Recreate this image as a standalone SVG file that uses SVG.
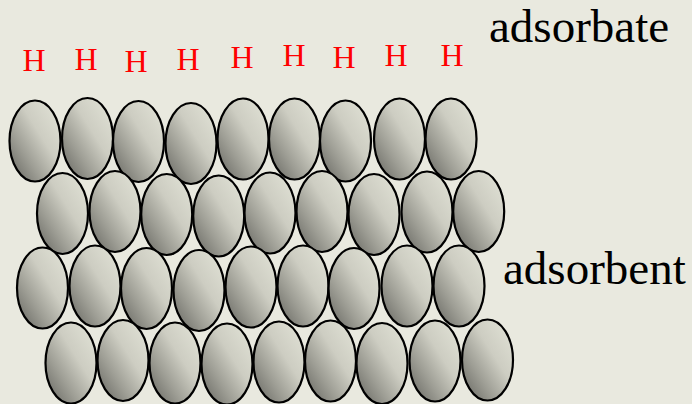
<svg xmlns="http://www.w3.org/2000/svg" width="692" height="404" viewBox="0 0 692 404">
  <defs>
    <!-- shaded sphere-like fill: dark lower-left, light upper-right -->
    <linearGradient id="atomShade" x1="0.05" y1="0.95" x2="0.95" y2="0.05">
      <stop offset="0" stop-color="#6a6a64"/>
      <stop offset="0.3" stop-color="#9e9e95"/>
      <stop offset="0.6" stop-color="#cdcdc2"/>
      <stop offset="1" stop-color="#e1e2d6"/>
    </linearGradient>
  </defs>
  <style>
    .atom { fill: url(#atomShade); stroke: #000; stroke-width: 2.2; }
    .h { font-family: "Liberation Serif", "Times New Roman", "DejaVu Serif", serif; font-size: 32px; fill: #ff0000; text-anchor: middle; }
    .label { font-family: "Liberation Serif", "Times New Roman", "DejaVu Serif", serif; font-size: 47px; fill: #000; }
  </style>

  <rect x="0" y="0" width="692" height="404" fill="#e9e9df"/>

  <!-- adsorbed hydrogen layer -->
  <g id="adsorbate-layer">
    <text class="h" x="34" y="71" font-family="Liberation Serif, serif">H</text>
    <text class="h" x="86" y="70" font-family="Liberation Serif, serif">H</text>
    <text class="h" x="136" y="72" font-family="Liberation Serif, serif">H</text>
    <text class="h" x="188" y="70" font-family="Liberation Serif, serif">H</text>
    <text class="h" x="242" y="68" font-family="Liberation Serif, serif">H</text>
    <text class="h" x="294" y="66" font-family="Liberation Serif, serif">H</text>
    <text class="h" x="344" y="68" font-family="Liberation Serif, serif">H</text>
    <text class="h" x="396" y="66" font-family="Liberation Serif, serif">H</text>
    <text class="h" x="452" y="66" font-family="Liberation Serif, serif">H</text>
  </g>

  <!-- adsorbent surface: row 1 (top) -->
  <g id="r1c1"><ellipse class="atom" cx="35" cy="141" rx="25.5" ry="40.5"/></g>
  <g id="r1c2"><ellipse class="atom" cx="87.5" cy="138.5" rx="25.5" ry="40.5"/></g>
  <g id="r1c3"><ellipse class="atom" cx="138.5" cy="141.5" rx="25.5" ry="40.5"/></g>
  <g id="r1c4"><ellipse class="atom" cx="191" cy="143.5" rx="25.5" ry="40.5"/></g>
  <g id="r1c5"><ellipse class="atom" cx="243" cy="139" rx="25.5" ry="40.5"/></g>
  <g id="r1c6"><ellipse class="atom" cx="294.5" cy="139" rx="25.5" ry="40.5"/></g>
  <g id="r1c7"><ellipse class="atom" cx="345.5" cy="141" rx="25.5" ry="40.5"/></g>
  <g id="r1c8"><ellipse class="atom" cx="399.5" cy="139" rx="25.5" ry="40.5"/></g>
  <g id="r1c9"><ellipse class="atom" cx="451" cy="139" rx="25.5" ry="40.5"/></g>

  <!-- row 2 -->
  <g id="r2c1"><ellipse class="atom" cx="62.5" cy="213.5" rx="25.5" ry="40.5"/></g>
  <g id="r2c2"><ellipse class="atom" cx="115" cy="211.5" rx="25.5" ry="40.5"/></g>
  <g id="r2c3"><ellipse class="atom" cx="166.7" cy="214.5" rx="25.5" ry="40.5"/></g>
  <g id="r2c4"><ellipse class="atom" cx="218.7" cy="216" rx="25.5" ry="40.5"/></g>
  <g id="r2c5"><ellipse class="atom" cx="270" cy="213" rx="25.5" ry="40.5"/></g>
  <g id="r2c6"><ellipse class="atom" cx="322" cy="211.5" rx="25.5" ry="40.5"/></g>
  <g id="r2c7"><ellipse class="atom" cx="374" cy="214.5" rx="25.5" ry="40.5"/></g>
  <g id="r2c8"><ellipse class="atom" cx="427" cy="212" rx="25.5" ry="40.5"/></g>
  <g id="r2c9"><ellipse class="atom" cx="478.7" cy="211.5" rx="25.5" ry="40.5"/></g>

  <!-- row 3 -->
  <g id="r3c1"><ellipse class="atom" cx="42.5" cy="288" rx="25.5" ry="40.5"/></g>
  <g id="r3c2"><ellipse class="atom" cx="95" cy="286" rx="25.5" ry="40.5"/></g>
  <g id="r3c3"><ellipse class="atom" cx="146.5" cy="288.5" rx="25.5" ry="40.5"/></g>
  <g id="r3c4"><ellipse class="atom" cx="199" cy="290.5" rx="25.5" ry="40.5"/></g>
  <g id="r3c5"><ellipse class="atom" cx="251" cy="287" rx="25.5" ry="40.5"/></g>
  <g id="r3c6"><ellipse class="atom" cx="303" cy="286" rx="25.5" ry="40.5"/></g>
  <g id="r3c7"><ellipse class="atom" cx="354" cy="288.5" rx="25.5" ry="40.5"/></g>
  <g id="r3c8"><ellipse class="atom" cx="407" cy="286" rx="25.5" ry="40.5"/></g>
  <g id="r3c9"><ellipse class="atom" cx="459" cy="286" rx="25.5" ry="40.5"/></g>

  <!-- row 4 (bottom) -->
  <g id="r4c1"><ellipse class="atom" cx="71" cy="363" rx="25.5" ry="40.5"/></g>
  <g id="r4c2"><ellipse class="atom" cx="123" cy="360.5" rx="25.5" ry="40.5"/></g>
  <g id="r4c3"><ellipse class="atom" cx="175" cy="363" rx="25.5" ry="40.5"/></g>
  <g id="r4c4"><ellipse class="atom" cx="227" cy="364" rx="25.5" ry="40.5"/></g>
  <g id="r4c5"><ellipse class="atom" cx="279" cy="362" rx="25.5" ry="40.5"/></g>
  <g id="r4c6"><ellipse class="atom" cx="330.5" cy="361" rx="25.5" ry="40.5"/></g>
  <g id="r4c7"><ellipse class="atom" cx="382" cy="363.5" rx="25.5" ry="40.5"/></g>
  <g id="r4c8"><ellipse class="atom" cx="435" cy="361" rx="25.5" ry="40.5"/></g>
  <g id="r4c9"><ellipse class="atom" cx="487.5" cy="360" rx="25.5" ry="40.5"/></g>

  <!-- labels -->
  <g id="label-adsorbate"><text class="label" x="489" y="42" font-family="Liberation Serif, serif">adsorbate</text></g>
  <g id="label-adsorbent"><text class="label" x="503" y="284" font-family="Liberation Serif, serif">adsorbent</text></g>
</svg>
